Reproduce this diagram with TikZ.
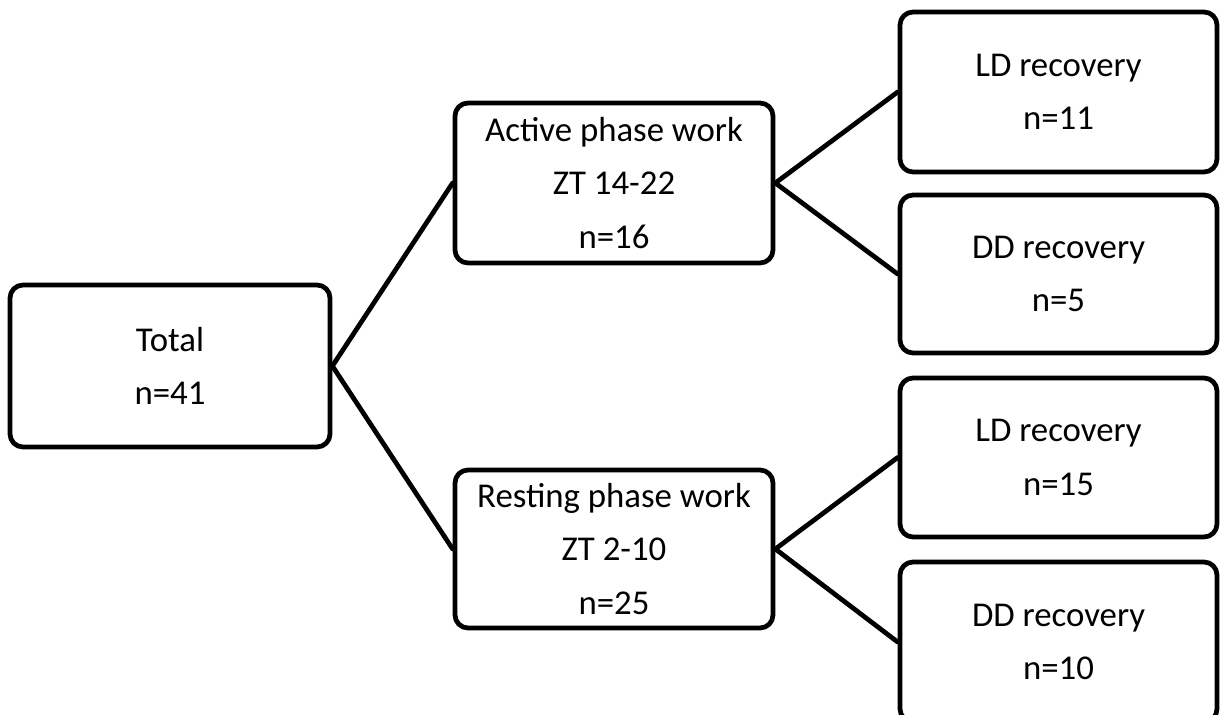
\documentclass[tikz,border=0pt]{standalone}
\usepackage{fontspec}
\setmainfont{Carlito}
\begin{document}
\begin{tikzpicture}[line width=2.7pt, line join=round, line cap=round,
  box/.style={draw, rounded corners=0.26cm, align=center, inner sep=0pt,
    minimum width=6.36cm, font=\fontsize{19.8}{30.5}\selectfont},
  leaf/.style={box, minimum width=6.34cm, minimum height=3.18cm}]
\useasboundingbox (0,0) rectangle (24.4,-14.3);
\clip (0,0) rectangle (24.4,-14.3);
\node[box, minimum width=6.4cm, minimum height=3.24cm] (total) at (3.4,-7.32) {Total\\n=41};
\node[box, minimum height=3.2cm] (active) at (12.28,-3.66) {Active phase work\\ZT 14-22\\n=16};
\node[box, minimum height=3.16cm] (resting) at (12.28,-10.98) {Resting phase work\\ZT 2-10\\n=25};
\node[leaf, minimum height=3.2cm] (ld1) at (21.17,-1.84) {LD recovery\\n=11};
\node[leaf, minimum height=3.16cm] (dd1) at (21.17,-5.48) {DD recovery\\n=5};
\node[leaf] (ld2) at (21.17,-9.15) {LD recovery\\n=15};
\node[leaf, minimum height=3.2cm] (dd2) at (21.17,-12.84) {DD recovery\\n=10};
\draw (active.west)--(total.east)--(resting.west);
\draw (ld1.west)--(active.east)--(dd1.west);
\draw (ld2.west)--(resting.east)--(dd2.west);
\end{tikzpicture}
\end{document}
